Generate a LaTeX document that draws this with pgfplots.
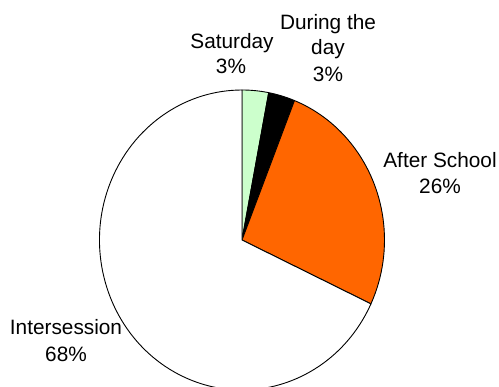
\documentclass[border=0pt]{standalone}
\usepackage{fontspec}
\setmainfont{Liberation Sans}
\usepackage{pgfplots}
\usepackage{pgfplotstable}
\pgfplotsset{compat=1.18}

\definecolor{satgreen}{HTML}{CCFFCC}
\definecolor{aftorange}{HTML}{FF6600}

% share of sessions, in percent, clockwise from twelve o'clock
\pgfplotstableread[col sep=comma]{
part,share
Saturday,3
During the day,3
After School,26
Intersession,68
}\piedata

\begin{document}
\begin{tikzpicture}
\begin{axis}[
  width=499bp, height=387bp, scale only axis,
  xmin=0, xmax=499, ymin=0, ymax=387,
  hide axis, clip=true,
]
  \def\cx{242}\def\cy{147}
  \def\rx{142.5bp}\def\ry{150bp}
  \gdef\curangle{90}
  \pgfplotsforeachungrouped \i in {0,...,3}{%
    \pgfplotstablegetelem{\i}{share}\of\piedata
    \pgfmathsetmacro{\startang}{\curangle}%
    \pgfmathsetmacro{\stopang}{\curangle-3.6*\pgfplotsretval}%
    \ifcase\i \def\slicecol{satgreen}\or \def\slicecol{black}\or
      \def\slicecol{aftorange}\or \def\slicecol{white}\fi
    \edef\wedge{\noexpand\filldraw[fill=\slicecol, draw=black, line width=0.9bp, line join=round]
      (axis cs:\cx,\cy) -- ++(\startang:\rx\space and \ry)
      arc[start angle=\startang, end angle=\stopang, x radius=\rx, y radius=\ry] -- cycle;}%
    \wedge
    \global\let\curangle\stopang
  }

  \begin{scope}[every node/.style={anchor=base, inner sep=0pt,
      font=\fontsize{20.8bp}{25bp}\selectfont}]
    \node at (axis cs:232,338.3) {Saturday};
    \node at (axis cs:231,313) {3\%};
    \node at (axis cs:328,357.7) {During the};
    \node at (axis cs:328,332) {day};
    \node at (axis cs:328,305.5) {3\%};
    \node at (axis cs:440,219.3) {After School};
    \node at (axis cs:440,193) {26\%};
    \node at (axis cs:66,52) {Intersession};
    \node at (axis cs:66,25.3) {68\%};
  \end{scope}
\end{axis}
\pgfresetboundingbox
\path[use as bounding box] (current axis.south west) rectangle (current axis.north east);
\end{tikzpicture}
\end{document}
